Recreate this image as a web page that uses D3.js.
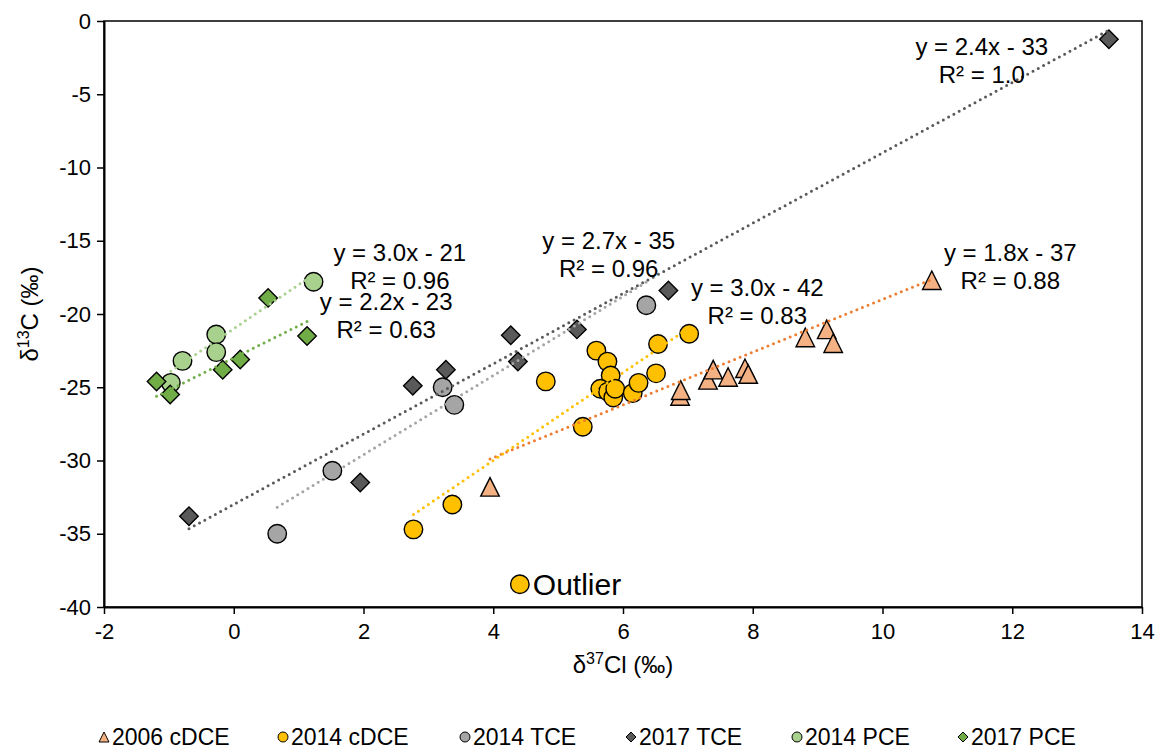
<!DOCTYPE html>
<html>
<head>
<meta charset="utf-8">
<script src="https://cdn.jsdelivr.net/npm/d3@7"></script>
<style>
  html, body { margin: 0; padding: 0; background: #fff; }
  svg { display: block; font-family: "Liberation Sans", Arial, sans-serif; }
</style>
</head>
<body>
<svg id="chart" width="1169" height="751"></svg>
<script>
// δ37Cl (x) vs δ13C (y) for each compound / sampling year, in ‰
const cDCE2006 = [[3.95,-31.8],[6.88,-25.6],[6.89,-25.2],[7.31,-24.5],[7.39,-23.8],[7.62,-24.3],[7.88,-23.7],[7.93,-24.1],[8.81,-21.6],[9.14,-21.05],[9.24,-22.0],[10.76,-17.7]];
const cDCE2014 = [[2.77,-34.7],[3.37,-33.0],[4.81,-24.6],[5.38,-27.7],[5.59,-22.5],[5.76,-23.25],[5.81,-24.2],[5.65,-25.1],[5.77,-25.3],[5.85,-25.7],[5.88,-25.1],[6.15,-25.4],[6.24,-24.7],[6.51,-24.05],[6.54,-22.05],[7.02,-21.35]];
const cDCE2014Outlier = [[4.41,-38.45]];
const TCE2014 = [[0.67,-35.0],[1.52,-30.7],[3.22,-25.0],[3.40,-26.2],[6.36,-19.4]];
const TCE2017 = [[-0.69,-33.8],[1.95,-31.5],[2.76,-24.9],[3.27,-23.8],[4.27,-21.45],[4.38,-23.25],[5.29,-21.05],[6.70,-18.4],[13.49,-1.25]];
const PCE2014 = [[1.23,-17.8],[-0.27,-21.4],[-0.27,-22.6],[-0.79,-23.2],[-0.97,-24.7]];
const PCE2017 = [[0.53,-18.9],[1.13,-21.5],[0.10,-23.1],[-0.17,-23.8],[-1.19,-24.6],[-0.98,-25.5]];

// Legend order and series names
const seriesNames = ["2006 cDCE","2014 cDCE","2014 TCE","2017 TCE","2014 PCE","2017 PCE"];

// Linear trend lines: slope, intercept and R² as reported on the chart
const trendSlope     = [1.8, 3.0, 2.7, 2.4, 3.0, 2.2];
const trendIntercept = [-37, -42, -35, -33, -21, -23];
const trendR2        = ["0.88", "0.83", "0.96", "1.0", "0.96", "0.63"];
// where each equation label sits (data units, centre of the first line)
const labelAnchorX = [11.97, 8.07, 5.78, 11.53, 2.56, 2.35];
const labelAnchorY = [-15.77, -18.16, -14.95, -1.77, -15.77, -19.15];

const xTicks = [-2, 0, 2, 4, 6, 8, 10, 12, 14];
const yTicks = [0, -5, -10, -15, -20, -25, -30, -35, -40];

const seriesData = [cDCE2006, cDCE2014, TCE2014, TCE2017, PCE2014, PCE2017];
const fills  = ["#F4B183", "#FFC000", "#A5A5A5", "#595959", "#A9D18E", "#70AD47"];
const lineColors = ["#ED7D31", "#FFC000", "#A5A5A5", "#595959", "#A9D18E", "#70AD47"];
const shapes = ["triangle", "circle", "circle", "diamond", "circle", "diamond"];

const svg = d3.select("#chart");
const plot = { left: 104, right: 1142, top: 21, bottom: 607 };

const x = d3.scaleLinear().domain([-2, 14]).range([plot.left, plot.right]);
const y = d3.scaleLinear().domain([-40, 0]).range([plot.bottom, plot.top]);

function markerPath(shape, s) {
  // s = full marker width in px
  const h = s / 2;
  if (shape === "circle") {
    const p = d3.path(); p.arc(0, 0, h, 0, 2 * Math.PI); return p.toString();
  }
  if (shape === "diamond") {
    return `M0,${-h}L${h},0L0,${h}L${-h},0Z`;
  }
  return `M0,${-h}L${h},${h}L${-h},${h}Z`;
}

// plot frame
svg.append("rect")
  .attr("x", plot.left).attr("y", plot.top)
  .attr("width", plot.right - plot.left).attr("height", plot.bottom - plot.top)
  .attr("fill", "none").attr("stroke", "#000").attr("stroke-width", 1.5);

// axes
const xAxis = svg.append("g")
  .attr("transform", `translate(0,${plot.bottom})`)
  .call(d3.axisBottom(x).tickValues(xTicks).tickSize(7).tickSizeOuter(0).tickFormat(d3.format("d")));
const yAxis = svg.append("g")
  .attr("transform", `translate(${plot.left},0)`)
  .call(d3.axisLeft(y).tickValues(yTicks).tickSize(7).tickSizeOuter(0).tickFormat(d3.format("d")));

[xAxis, yAxis].forEach(g => {
  g.select(".domain").attr("stroke", "#000").attr("stroke-width", 2);
  g.selectAll(".tick line").attr("stroke", "#000").attr("stroke-width", 1.5);
  g.selectAll(".tick text")
    .attr("fill", "#000")
    .style("font-size", "22px")
    .style("font-family", "'Liberation Sans', Arial, sans-serif");
});
xAxis.selectAll(".tick text").attr("dy", "0.71em").attr("y", 16);
yAxis.selectAll(".tick text").attr("x", -13);
// keep the minus sign as a plain hyphen like the source labels
[xAxis, yAxis].forEach(g => g.selectAll(".tick text").text(d => String(d)));

// axis titles
const xt = svg.append("text")
  .attr("x", (plot.left + plot.right) / 2).attr("y", 673)
  .attr("text-anchor", "middle").style("font-size", "24px").attr("fill", "#000");
xt.append("tspan").text("δ");
xt.append("tspan").text("37").attr("dy", -9).style("font-size", "16px");
xt.append("tspan").text("Cl (‰)").attr("dy", 9);

const yt = svg.append("text")
  .attr("transform", `translate(38,${(plot.top + plot.bottom) / 2}) rotate(-90)`)
  .attr("text-anchor", "middle").style("font-size", "24px").attr("fill", "#000");
yt.append("tspan").text("δ");
yt.append("tspan").text("13").attr("dy", -9).style("font-size", "16px");
yt.append("tspan").text("C (‰)").attr("dy", 9);

// markers
const markerSize = 18.5;
seriesData.forEach((pts, i) => {
  svg.append("g").selectAll("path")
    .data(pts)
    .join("path")
    .attr("d", markerPath(shapes[i], markerSize))
    .attr("transform", d => `translate(${x(d[0])},${y(d[1])})`)
    .attr("fill", fills[i])
    .attr("stroke", "#000")
    .attr("stroke-width", 1.4);
});
// the 2014 cDCE outlier (excluded from the trend line)
svg.append("g").selectAll("path")
  .data(cDCE2014Outlier)
  .join("path")
  .attr("d", markerPath("circle", markerSize))
  .attr("transform", d => `translate(${x(d[0])},${y(d[1])})`)
  .attr("fill", fills[1]).attr("stroke", "#000").attr("stroke-width", 1.4);
svg.append("text")
  .attr("x", x(cDCE2014Outlier[0][0]) + 13)
  .attr("y", y(cDCE2014Outlier[0][1]))
  .attr("dominant-baseline", "central")
  .style("font-size", "30px").attr("fill", "#000")
  .text("Outlier");

// dotted trend lines across each series' x range
seriesData.forEach((pts, i) => {
  const [x0, x1] = d3.extent(pts, d => d[0]);
  const f = v => trendSlope[i] * v + trendIntercept[i];
  svg.append("line")
    .attr("x1", x(x0)).attr("y1", y(f(x0)))
    .attr("x2", x(x1)).attr("y2", y(f(x1)))
    .attr("stroke", lineColors[i])
    .attr("stroke-width", 3)
    .attr("stroke-linecap", "round")
    .attr("stroke-dasharray", "0 6");
});

// trend line equations
const fmt1 = d3.format(".1f");
seriesData.forEach((pts, i) => {
  const cx = x(labelAnchorX[i]), cy = y(labelAnchorY[i]);
  const b = trendIntercept[i];
  const eq = `y = ${fmt1(trendSlope[i])}x ${b < 0 ? "-" : "+"} ${Math.abs(b)}`;
  const g = svg.append("g").attr("fill", "#000").style("font-size", "24px");
  g.append("text").attr("x", cx).attr("y", cy)
    .attr("text-anchor", "middle").attr("dominant-baseline", "central").text(eq);
  g.append("text").attr("x", cx).attr("y", cy + 28)
    .attr("text-anchor", "middle").attr("dominant-baseline", "central").text(`R² = ${trendR2[i]}`);
});

// legend
const legendX = [104, 283, 465, 631, 797, 963];
const legend = svg.append("g").attr("transform", "translate(0,737)");
seriesNames.forEach((name, i) => {
  const g = legend.append("g").attr("transform", `translate(${legendX[i]},0)`);
  g.append("path").attr("d", markerPath(shapes[i], 10))
    .attr("fill", fills[i]).attr("stroke", "#000").attr("stroke-width", 1);
  g.append("text").attr("x", 8).attr("y", 0)
    .attr("dominant-baseline", "central")
    .style("font-size", "23px").attr("fill", "#000")
    .text(name);
});
</script>
</body>
</html>
